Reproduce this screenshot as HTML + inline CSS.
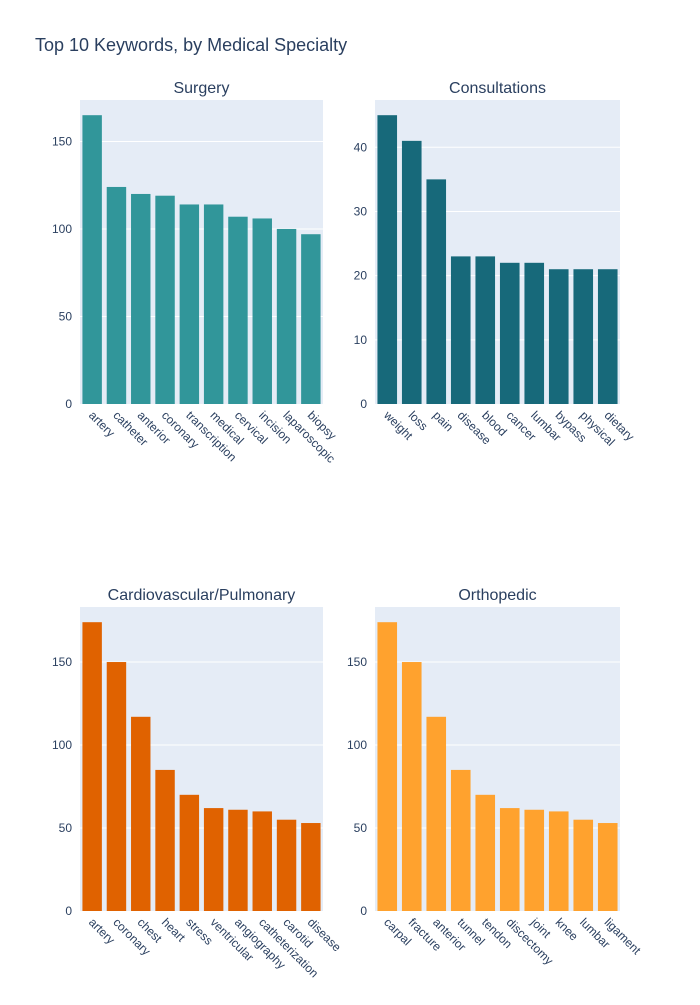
<!DOCTYPE html>
<html><head><meta charset="utf-8"><style>
body{margin:0;background:#fff;font-family:"Liberation Sans",sans-serif}
svg text{font-family:"Liberation Sans",sans-serif;fill:#2a3f5f}
</style></head><body>
<svg id="c" width="700" height="1000">
<text x="35" y="51" font-size="18">Top 10 Keywords, by Medical Specialty</text>
</svg>
<script>
const surgeryCats=["artery","catheter","anterior","coronary","transcription","medical","cervical","incision","laparoscopic","biopsy"];
const surgeryVals=[165,124,120,119,114,114,107,106,100,97];
const consultCats=["weight","loss","pain","disease","blood","cancer","lumbar","bypass","physical","dietary"];
const consultVals=[45,41,35,23,23,22,22,21,21,21];
const cardioCats=["artery","coronary","chest","heart","stress","ventricular","angiography","catheterization","carotid","disease"];
const cardioVals=[174,150,117,85,70,62,61,60,55,53];
const orthoCats=["carpal","fracture","anterior","tunnel","tendon","discectomy","joint","knee","lumbar","ligament"];
const orthoVals=[174,150,117,85,70,62,61,60,55,53];
const surgeryTicks=[0,50,100,150];
const consultTicks=[0,10,20,30,40];
const cardioTicks=[0,50,100,150];
const orthoTicks=[0,50,100,150];
const NS="http://www.w3.org/2000/svg";
const svg=document.getElementById("c");
function mk(t,a,p){const e=document.createElementNS(NS,t);for(const k in a)e.setAttribute(k,a[k]);(p||svg).appendChild(e);return e;}
function panel(name,title,cats,vals,ticks,color,x0,y0,w,h){
  const g=mk("g",{});
  
  
  const bg=mk("rect",{x:x0,y:y0,width:w,height:h,fill:"#e5ecf6"},g);
  
  
  const max=Math.max(...vals)*1.0526;
  const y=v=>y0+h-v/max*h;
  const slot=w/cats.length;
  const x=i=>x0+slot*i;
  ticks.forEach(t=>{
    if(t>0){const l=mk("line",{x1:x0,x2:x0+w,y1:y(t),y2:y(t),stroke:"#fff","stroke-width":1},g);
    
    }
    const tx=mk("text",{x:x0-8,y:y(t)+4,"font-size":12,"text-anchor":"end"},g);tx.textContent=t;
    
    
  });
  vals.forEach((v,i)=>{
    const b=mk("rect",{x:x(i)+slot*0.1,y:y(v),width:slot*0.8,height:y(0)-y(v),fill:color},g);
    
    
    const cx=x(i)+slot/2-4;
    const tx=mk("text",{x:cx,y:y0+h+12,"font-size":12,transform:`rotate(45 ${cx} ${y0+h+12})`},g);tx.textContent=cats[i];
    
    
  });
  const tt=mk("text",{x:x0+w/2,y:y0-7,"font-size":16,"text-anchor":"middle"},g);tt.textContent=title;
  
  
}
panel("surgery","Surgery",surgeryCats,surgeryVals,surgeryTicks,"#31969a",80,100,243,304);
panel("consultations","Consultations",consultCats,consultVals,consultTicks,"#17697a",375,100,245,304);
panel("cardio","Cardiovascular/Pulmonary",cardioCats,cardioVals,cardioTicks,"#e06200",80,607,243,304);
panel("ortho","Orthopedic",orthoCats,orthoVals,orthoTicks,"#ffa22e",375,607,245,304);
</script>
</body></html>
